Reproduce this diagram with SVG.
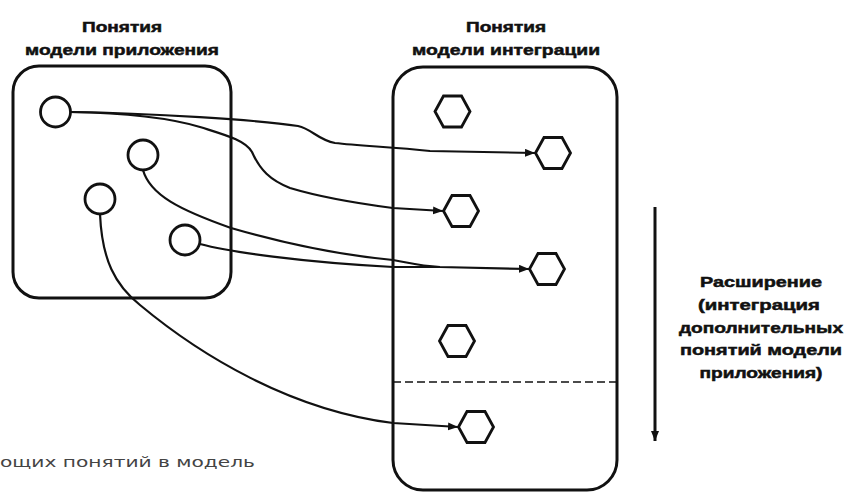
<svg xmlns="http://www.w3.org/2000/svg" width="846" height="494" viewBox="0 0 846 494">
<defs>
<style>
.box{fill:none;stroke:#111;stroke-width:3}
.node{fill:none;stroke:#111;stroke-width:2.8}
.con{fill:none;stroke:#111;stroke-width:2.2}
.title{font-family:"Liberation Sans",Arial,sans-serif;font-weight:bold;font-size:15px;fill:#111;stroke:#111;stroke-width:0.5;text-anchor:middle}
.note{font-family:"DejaVu Sans","Liberation Sans",sans-serif;font-size:14px;fill:#444}
</style>
<marker id="ah" markerUnits="userSpaceOnUse" markerWidth="12" markerHeight="10" refX="10" refY="4" orient="auto">
<path d="M0,0 L10,4 L0,8 z" fill="#111"/>
</marker>
<polygon id="hex" points="-17.5,0 -9,-15.5 9,-15.5 17.5,0 9,15.5 -9,15.5"/>
</defs>
<rect width="846" height="494" fill="#fff"/>

<g id="app-model">
<rect class="box" x="13" y="66" width="218" height="232" rx="26"/>
<text class="title" x="122" y="32" textLength="80" lengthAdjust="spacingAndGlyphs">Понятия</text>
<text class="title" x="122" y="55" textLength="194" lengthAdjust="spacingAndGlyphs">модели приложения</text>
</g>
<g id="int-model">
<rect class="box" x="393" y="67" width="224" height="423" rx="30"/>
<line x1="393" y1="382" x2="617" y2="382" stroke="#111" stroke-width="1.6" stroke-dasharray="8,4"/>
<text class="title" x="506" y="32" textLength="80" lengthAdjust="spacingAndGlyphs">Понятия</text>
<text class="title" x="506" y="55" textLength="188" lengthAdjust="spacingAndGlyphs">модели интеграции</text>
</g>

<g id="c1"><circle class="node" cx="55.5" cy="112" r="15"/></g>
<g id="c2"><circle class="node" cx="143" cy="155" r="15"/></g>
<g id="c3"><circle class="node" cx="100" cy="199" r="15"/></g>
<g id="c4"><circle class="node" cx="185" cy="240" r="15"/></g>

<g id="h1"><use href="#hex" class="node" x="452.5" y="111.5"/></g>
<g id="h2"><use href="#hex" class="node" x="553" y="153"/></g>
<g id="h3"><use href="#hex" class="node" x="461" y="211"/></g>
<g id="h4"><use href="#hex" class="node" x="547" y="269"/></g>
<g id="h5"><use href="#hex" class="node" x="457" y="341"/></g>
<g id="h6"><use href="#hex" class="node" x="476" y="427"/></g>

<g id="connectors">
<path class="con" marker-end="url(#ah)" d="M70,112 C150,113 260,120 298,126 C312,129 318,140 335,143 C360,146 393,147 430,151 L535,153"/>
<path class="con" marker-end="url(#ah)" d="M70,112 C130,113 170,118 200,127 C225,135 245,140 252,152 C260,170 270,180 290,188 C330,200 370,205 393,208 L443,211"/>
<path class="con" marker-end="url(#ah)" d="M143,170 C150,195 180,210 231,228 C290,245 350,256 393,260 C410,263 420,266 440,267 L529,269"/>
<path class="con" d="M200,244 C230,252 300,262 393,267 L440,267"/>
<path class="con" marker-end="url(#ah)" d="M100,214 C102,260 115,285 140,305 C200,355 290,410 393,423 L458,427"/>
<line x1="655" y1="207" x2="655" y2="441" stroke="#111" stroke-width="3" marker-end="url(#ah)"/>
</g>

<g id="extension-label">
<text class="title" x="761" y="287" textLength="122" lengthAdjust="spacingAndGlyphs">Расширение</text>
<text class="title" x="759" y="310" textLength="122" lengthAdjust="spacingAndGlyphs">(интеграция</text>
<text class="title" x="761" y="333" textLength="164" lengthAdjust="spacingAndGlyphs">дополнительных</text>
<text class="title" x="761" y="355" textLength="162" lengthAdjust="spacingAndGlyphs">понятий модели</text>
<text class="title" x="761" y="378" textLength="123" lengthAdjust="spacingAndGlyphs">приложения)</text>
</g>

<text class="note" x="0" y="467" textLength="255" lengthAdjust="spacingAndGlyphs">ощих понятий в модель</text>
</svg>
